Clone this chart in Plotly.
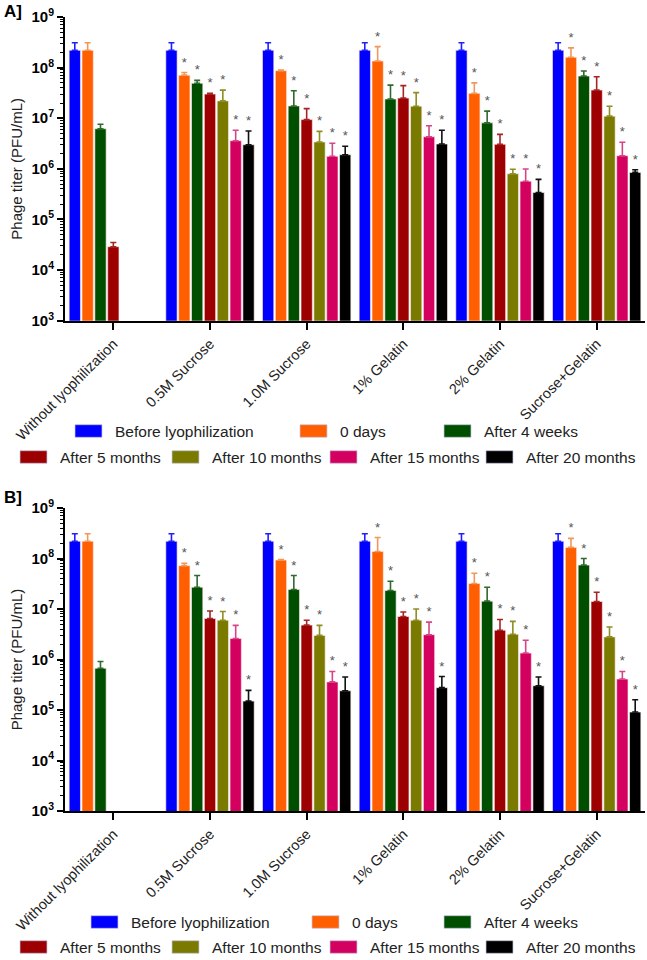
import plotly.graph_objects as go

# ---------------- data ----------------
categories = ["Without lyophilization", "0.5M Sucrose", "1.0M Sucrose",
              "1% Gelatin", "2% Gelatin", "Sucrose+Gelatin"]
series_names = ["Before lyophilization", "0 days", "After 4 weeks", "After 5 months",
                "After 10 months", "After 15 months", "After 20 months"]

# Panel A: mean titer and top of error bar (PFU/mL)
a_before = [2.2e8, 2.2e8, 2.2e8, 2.2e8, 2.2e8, 2.2e8]
a_before_err = [3.1e8, 3.1e8, 3.1e8, 3.1e8, 3.1e8, 3.1e8]
a_0days = [2.2e8, 7.1e7, 8.7e7, 1.35e8, 3.1e7, 1.6e8]
a_0days_err = [3.1e8, 8.0e7, 9.0e7, 2.6e8, 5.0e7, 2.45e8]
a_4weeks = [6.2e6, 4.9e7, 1.75e7, 2.4e7, 8.1e6, 6.8e7]
a_4weeks_err = [7.6e6, 5.6e7, 3.5e7, 4.5e7, 1.38e7, 8.6e7]
a_5months = [2.9e4, 3.0e7, 9.4e6, 2.5e7, 3.05e6, 3.6e7]
a_5months_err = [3.5e4, 3.1e7, 1.55e7, 4.4e7, 4.8e6, 6.6e7]
a_10months = [None, 2.2e7, 3.4e6, 1.73e7, 8.0e5, 1.1e7]
a_10months_err = [None, 3.6e7, 5.5e6, 3.2e7, 9.8e5, 1.73e7]
a_15months = [None, 3.6e6, 1.77e6, 4.3e6, 5.7e5, 1.82e6]
a_15months_err = [None, 5.8e6, 3.2e6, 7.1e6, 9.9e5, 3.35e6]
a_20months = [None, 3.0e6, 1.9e6, 3.1e6, 3.4e5, 8.5e5]
a_20months_err = [None, 5.6e6, 2.8e6, 5.8e6, 6.2e5, 9.6e5]

# Panel B
b_before = [2.2e8, 2.2e8, 2.2e8, 2.2e8, 2.2e8, 2.2e8]
b_before_err = [3.1e8, 3.1e8, 3.1e8, 3.1e8, 3.1e8, 3.1e8]
b_0days = [2.2e8, 7.2e7, 9.3e7, 1.38e8, 3.2e7, 1.66e8]
b_0days_err = [3.1e8, 8.0e7, 9.5e7, 2.6e8, 5.1e7, 2.5e8]
b_4weeks = [6.7e5, 2.7e7, 2.43e7, 2.32e7, 1.43e7, 7.4e7]
b_4weeks_err = [9.1e5, 4.6e7, 4.6e7, 3.55e7, 2.7e7, 1.0e8]
b_5months = [None, 6.5e6, 4.8e6, 7.1e6, 3.8e6, 1.41e7]
b_5months_err = [None, 9.1e6, 6.0e6, 8.7e6, 6.2e6, 2.15e7]
b_10months = [None, 6.0e6, 3.0e6, 6.0e6, 3.16e6, 2.8e6]
b_10months_err = [None, 8.9e6, 4.75e6, 1.0e7, 5.7e6, 4.4e6]
b_15months = [None, 2.6e6, 3.6e5, 3.1e6, 1.34e6, 4.1e5]
b_15months_err = [None, 4.75e6, 5.8e5, 5.5e6, 2.4e6, 5.8e5]
b_20months = [None, 1.5e5, 2.4e5, 2.77e5, 3.03e5, 9.1e4]
b_20months_err = [None, 2.45e5, 4.5e5, 4.6e5, 4.5e5, 1.6e5]

# significance stars (1 = star above the bar), per category
stars_before = [0, 0, 0, 0, 0, 0]
stars_other = [0, 1, 1, 1, 1, 1]

y_tick_exponents = [3, 4, 5, 6, 7, 8, 9]

# ---------------- style ----------------
colors = ["#0000FF", "#FF5F00", "#004F00", "#9C0000", "#7A7A00", "#D4005F", "#000000"]
err_colors = ["#2020FF", "#F0985A", "#2F6A2F", "#A52525", "#8E8E25", "#D84585", "#111111"]
FONT = "Arial, Liberation Sans, sans-serif"
W, H = 647, 960

panelA = [(a_before, a_before_err), (a_0days, a_0days_err), (a_4weeks, a_4weeks_err),
          (a_5months, a_5months_err), (a_10months, a_10months_err),
          (a_15months, a_15months_err), (a_20months, a_20months_err)]
panelB = [(b_before, b_before_err), (b_0days, b_0days_err), (b_4weeks, b_4weeks_err),
          (b_5months, b_5months_err), (b_10months, b_10months_err),
          (b_15months, b_15months_err), (b_20months, b_20months_err)]

fig = go.Figure()

for panel, xa, ya in [(panelA, "x", "y"), (panelB, "x2", "y2")]:
    for i, (vals, tops) in enumerate(panel):
        plus = [(t - v) if (v is not None and t is not None) else None for v, t in zip(vals, tops)]
        minus = [0 if v is not None else None for v in vals]
        fig.add_trace(go.Bar(
            x=categories, y=vals, name=series_names[i], xaxis=xa, yaxis=ya,
            offsetgroup=str(i), showlegend=False,
            marker=dict(color=colors[i], line=dict(color="rgba(255,235,235,0.8)", width=0.8)),
            error_y=dict(type="data", symmetric=False, array=plus, arrayminus=minus,
                         color=err_colors[i], thickness=1.6, width=3),
        ))
        st = stars_before if i == 0 else stars_other
        sx = [c for c, s, v in zip(categories, st, vals) if s and v is not None]
        sy = [t for s, v, t in zip(st, vals, tops) if s and v is not None]
        if sx:
            fig.add_trace(go.Bar(
                x=sx, y=sy, xaxis=xa, yaxis=ya, offsetgroup=str(i),
                showlegend=False, hoverinfo="skip",
                text=["*"] * len(sx),
                textposition="outside", textangle=0, constraintext="none", cliponaxis=False,
                textfont=dict(family=FONT, size=13, color="#555555"),
                marker=dict(color="rgba(0,0,0,0)", line=dict(width=0)),
            ))

xdom = [65 / W, 645 / W]
ydomA = [1 - 320.7 / H, 1 - 17 / H]
ydomB = [1 - 811 / H, 1 - 508 / H]

tickvals = [10 ** e for e in y_tick_exponents]
ticktext = ["10<sup>%d</sup>" % e for e in y_tick_exponents]
minorvals = [m * 10 ** e for e in y_tick_exponents[:-1] for m in range(2, 10)]

xax = dict(domain=xdom, range=[-0.5, 5.5], showline=True, linecolor="black", linewidth=2,
           ticks="outside", ticklen=7, tickwidth=2, tickcolor="black", tickangle=-45,
           tickfont=dict(family=FONT, size=14.5, color="#222222"), showgrid=False,
           automargin=False, fixedrange=True)
yax = dict(type="log", range=[3, 9], showline=True, linecolor="black", linewidth=2,
           ticks="outside", ticklen=6, tickwidth=2, tickcolor="black",
           tickmode="array", tickvals=tickvals, ticktext=ticktext,
           tickfont=dict(family=FONT, size=15, color="black", weight="bold"),
           showgrid=False, zeroline=False,
           minor=dict(ticks="outside", ticklen=3, tickwidth=1, tickcolor="black",
                      tickmode="array", tickvals=minorvals, showgrid=False),
           title=dict(text="Phage titer (PFU/mL)", font=dict(family=FONT, size=15, color="#222222"),
                      standoff=5),
           automargin=False, fixedrange=True)

fig.update_layout(
    width=W, height=H, margin=dict(l=0, r=0, t=0, b=0),
    paper_bgcolor="white", plot_bgcolor="white",
    barmode="group", bargap=0.07, bargroupgap=0.12,
    xaxis=dict(xax, anchor="y"), yaxis=dict(yax, domain=ydomA, anchor="x"),
    xaxis2=dict(xax, anchor="y2"), yaxis2=dict(yax, domain=ydomB, anchor="x2"),
    showlegend=False,
)

# panel labels
for lab, py in [("A]", 12), ("B]", 497)]:
    fig.add_annotation(text=lab, xref="paper", yref="paper", x=2 / W, y=1 - py / H,
                       xanchor="left", yanchor="middle", showarrow=False,
                       font=dict(family=FONT, size=17, color="black", weight="bold"))

# manual legends (wide swatches as in the reference)
legend_rows = [
    # (row centre y px, series indices, swatch left x px)
    (431, [0, 1, 2], [75, 300, 444]),
    (457, [3, 4, 5, 6], [20, 172, 330, 486]),
    (922, [0, 1, 2], [91, 312, 444]),
    (947, [3, 4, 5, 6], [20, 172, 330, 486]),
]
for cy, idxs, lefts in legend_rows:
    for i, lx in zip(idxs, lefts):
        fig.add_shape(type="rect", xref="paper", yref="paper",
                      x0=lx / W, x1=(lx + 27) / W, y0=1 - (cy + 6.3) / H, y1=1 - (cy - 6.3) / H,
                      fillcolor=colors[i], line=dict(color="rgba(200,200,230,0.9)", width=0.8))
        fig.add_annotation(text=series_names[i], xref="paper", yref="paper",
                           x=(lx + 37.5) / W, y=1 - cy / H, xanchor="left", yanchor="middle",
                           showarrow=False, font=dict(family=FONT, size=15.5, color="#222222"))

fig.write_html("out.html", config={"displayModeBar": False},
               post_script="document.body.style.margin='0';document.body.style.overflow='hidden';")
